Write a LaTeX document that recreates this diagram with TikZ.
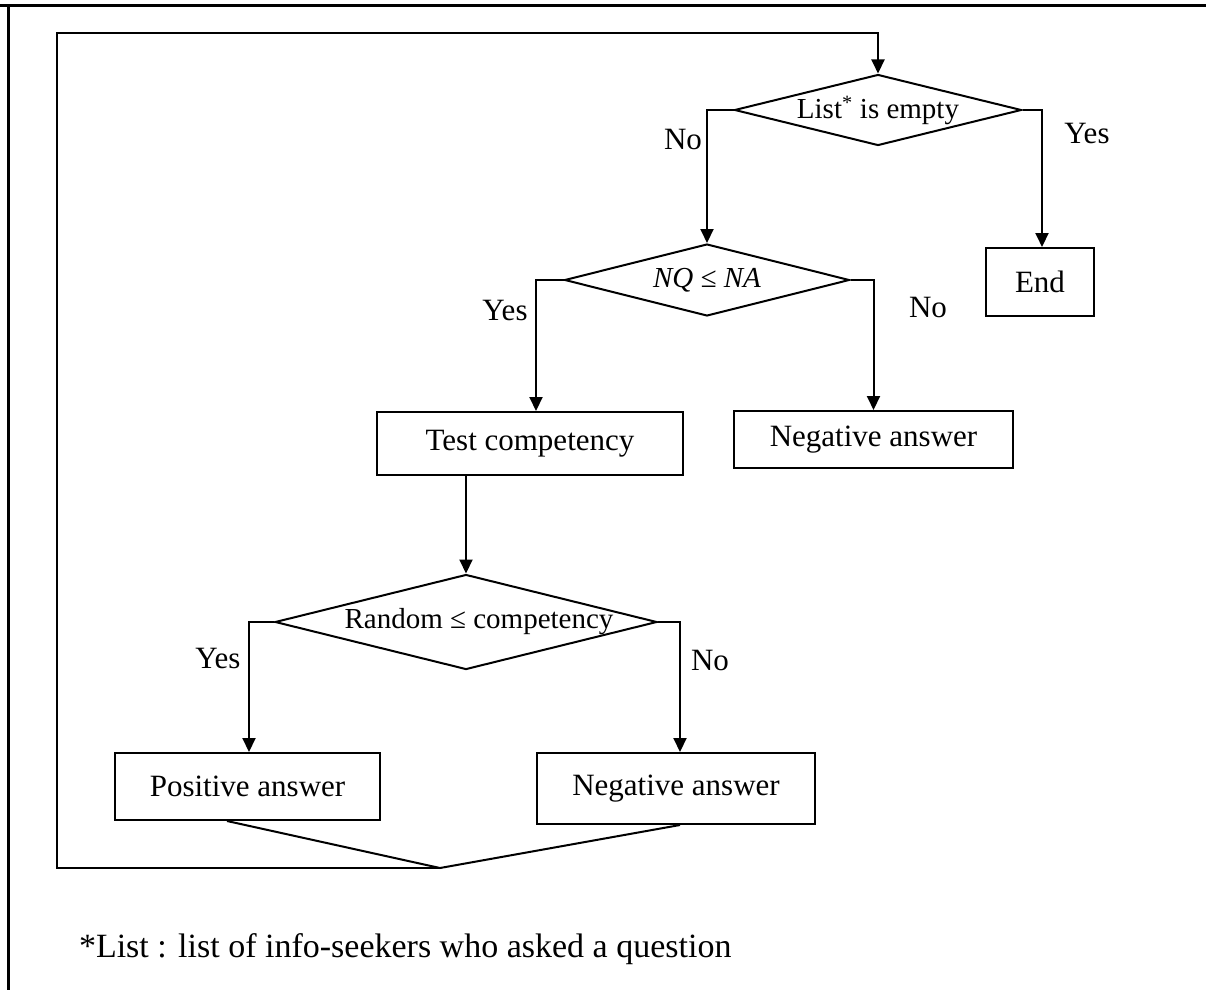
\documentclass[tikz,border=0pt]{standalone}
\usepackage{fontspec}
\setmainfont{Liberation Serif}
\usetikzlibrary{shapes.geometric,arrows.meta}
\begin{document}
\begin{tikzpicture}[x=1pt,y=-1pt,
  line width=2pt,
  arr/.style={-{Triangle[length=14pt,width=13pt]}},
  dbox/.style={shape=diamond,draw,inner sep=0pt,aspect=4,font=\fontsize{29}{34}\selectfont},
  pbox/.style={draw,rectangle,inner sep=0pt,font=\fontsize{31}{37}\selectfont},
  lab/.style={font=\fontsize{31}{37}\selectfont,inner sep=0pt}]
\useasboundingbox (0,0) rectangle (1206,990);
% frame (top and left edges)
\draw[line width=3pt] (0,6) -- (1206,6);
\draw[line width=3pt] (8,6) -- (8,990);
% decision nodes
\node[dbox,minimum width=287pt,minimum height=71pt] (d1) at (878,110) {List\textsuperscript{*} is empty};
\node[dbox,minimum width=285pt,minimum height=72pt] (d2) at (707,280) {\itshape NQ ≤ NA};
\node[dbox,minimum width=382pt,minimum height=95pt] (d3) at (466,622) {\makebox[0pt]{\hspace*{26pt}Random ≤ competency}};
% process nodes
\node[pbox,minimum width=108pt,minimum height=68pt] (end) at (1040,282) {End};
\node[pbox,minimum width=306pt,minimum height=63pt] (test) at (530,443.5) {Test competency};
\node[pbox,minimum width=279pt,minimum height=57pt] (neg1) at (873.5,439.5) {Negative answer};
\node[pbox,minimum width=265pt,minimum height=67pt] (pos) at (247.5,786.5) {Positive answer};
\node[pbox,minimum width=278pt,minimum height=71pt] (neg2) at (676,788.5) {Negative answer};
% connectors
\draw[arr] (d1.west) -| (d2.north);
\draw[arr] (d1.east) -| ([xshift=2pt]end.north);
\draw[arr] (d2.west) -| ([xshift=6pt]test.north);
\draw[arr] (d2.east) -| (neg1.north);
\draw[arr] (test.south -| d3.north) -- (d3.north);
\draw[arr] (d3.west) -| ([xshift=1.5pt]pos.north);
\draw[arr] (d3.east) -| ([xshift=4pt]neg2.north);
% merge and loop back
\coordinate (vb) at (440,868);
\coordinate (lb) at (57,868);
\coordinate (lt) at (57,33);
\draw ([xshift=-20.5pt]pos.south) -- (vb) -- ([xshift=4pt]neg2.south);
\draw[arr] (vb) -- (lb) -- (lt) -| (d1.north);
% labels
\node[lab] (no1) at (683,140) {No};
\node[lab] (yes1) at (1087,134) {Yes};
\node[lab] (yes2) at (505,310) {Yes};
\node[lab] (no2) at (928,307) {No};
\node[lab] (yes3) at (218,658) {Yes};
\node[lab] (no3) at (710,660) {No};
\node[lab,anchor=west,font=\fontsize{34}{40}\selectfont] (note) at (78,949) {*List : list of info-seekers who asked a question};
\end{tikzpicture}
\end{document}
